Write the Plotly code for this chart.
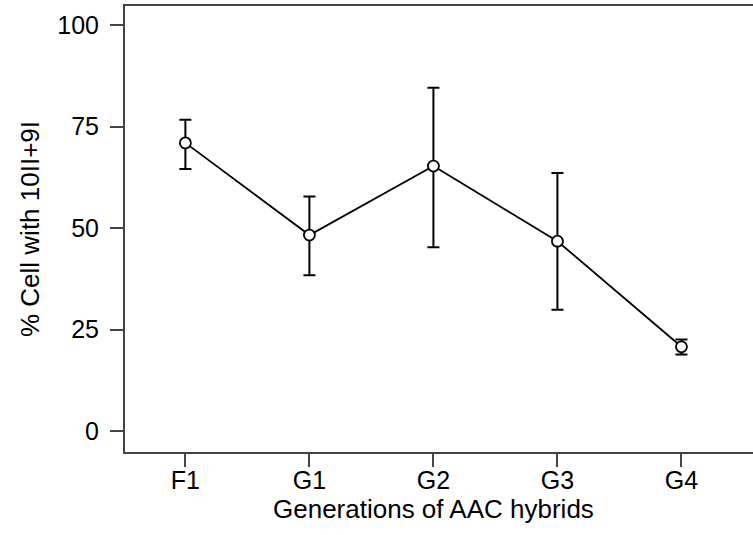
import plotly.graph_objects as go

generations = ["F1", "G1", "G2", "G3", "G4"]
pct_cells = [71.0, 48.3, 65.3, 46.8, 20.8]
err_plus = [5.7, 9.5, 19.3, 16.8, 1.8]
err_minus = [6.4, 9.9, 20.0, 16.9, 1.9]
y_ticks = [0, 25, 50, 75, 100]

FONT = "Liberation Sans, Arial, sans-serif"
TICK_SIZE = 25
TITLE_SIZE = 26

fig = go.Figure()
fig.add_trace(go.Scatter(
    x=list(range(len(generations))),
    y=pct_cells,
    mode="lines+markers",
    line=dict(color="black", width=1.8),
    marker=dict(symbol="circle", size=11, color="white",
                line=dict(color="black", width=1.8)),
    error_y=dict(type="data", symmetric=False, array=err_plus,
                 arrayminus=err_minus, color="black", thickness=2, width=6),
    showlegend=False,
))

fig.update_layout(
    width=753, height=535,
    margin=dict(l=125, r=0, t=6, b=83),
    paper_bgcolor="white", plot_bgcolor="white",
    font=dict(family=FONT, size=TICK_SIZE, color="black"),
    xaxis=dict(
        range=[-0.487, 4.577],
        tickmode="array", tickvals=list(range(len(generations))),
        ticktext=generations,
        showline=True, linecolor="#444", linewidth=2, mirror=True,
        ticks="outside", ticklen=13, tickwidth=1.5, tickcolor="#444",
        showgrid=False, zeroline=False,
        tickfont=dict(size=TICK_SIZE),
        ticklabelstandoff=-8,
    ),
    yaxis=dict(
        range=[-5.1, 104.7],
        tickmode="array", tickvals=y_ticks,
        showline=True, linecolor="#444", linewidth=2, mirror=False,
        ticks="outside", ticklen=13, tickwidth=1.5, tickcolor="#444",
        showgrid=False, zeroline=False,
        tickfont=dict(size=TICK_SIZE),
        ticklabelstandoff=6,
        title=dict(text="% Cell with 10II+9I", font=dict(size=TITLE_SIZE), standoff=10),
    ),
    annotations=[dict(
        text="Generations of AAC hybrids", xref="x", x=2,
        yref="paper", y=0, yanchor="top", yshift=-40,
        showarrow=False, font=dict(size=TITLE_SIZE),
    )],
)

fig.write_html("out.html", config={"displayModeBar": False},
               post_script="document.body.style.margin='0';")
